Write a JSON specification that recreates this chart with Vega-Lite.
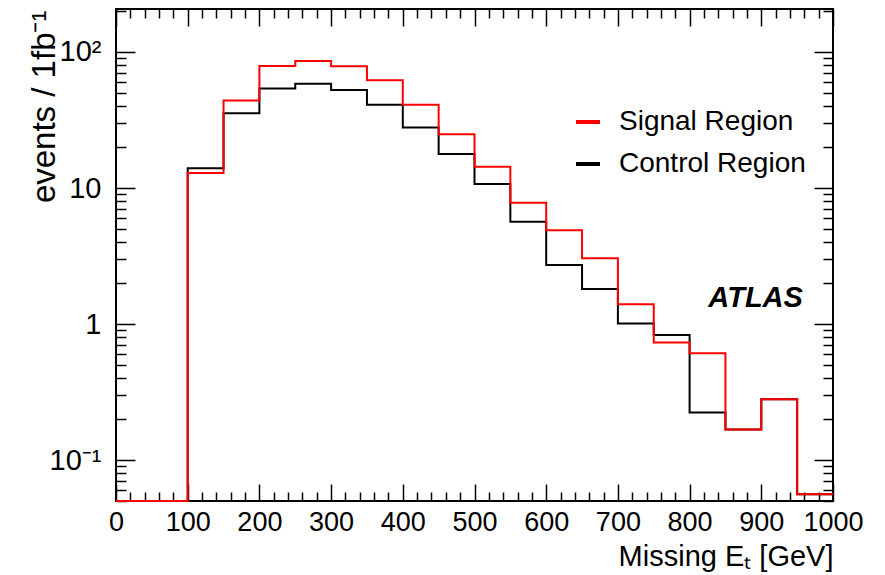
{
  "$schema": "https://vega.github.io/schema/vega-lite/v6.json",
  "width": 717,
  "height": 492,
  "autosize": {"type": "none"},
  "padding": {"left": 116, "top": 9, "right": 52, "bottom": 74},
  "background": "white",
  "config": {
    "view": {"stroke": "black", "strokeWidth": 2},
    "font": "Liberation Sans"
  },
  "datasets": {
    "hist": [
      {"region": "Control Region", "met": 0, "events": 0.05},
      {"region": "Control Region", "met": 50, "events": 0.05},
      {"region": "Control Region", "met": 100, "events": 14.0},
      {"region": "Control Region", "met": 150, "events": 35.4},
      {"region": "Control Region", "met": 200, "events": 54},
      {"region": "Control Region", "met": 250, "events": 58.5},
      {"region": "Control Region", "met": 300, "events": 52.5},
      {"region": "Control Region", "met": 350, "events": 41},
      {"region": "Control Region", "met": 400, "events": 27.9},
      {"region": "Control Region", "met": 450, "events": 17.8},
      {"region": "Control Region", "met": 500, "events": 10.7},
      {"region": "Control Region", "met": 550, "events": 5.65},
      {"region": "Control Region", "met": 600, "events": 2.72},
      {"region": "Control Region", "met": 650, "events": 1.81},
      {"region": "Control Region", "met": 700, "events": 1.01},
      {"region": "Control Region", "met": 750, "events": 0.83},
      {"region": "Control Region", "met": 800, "events": 0.224},
      {"region": "Control Region", "met": 850, "events": 0.168},
      {"region": "Control Region", "met": 900, "events": 0.28},
      {"region": "Control Region", "met": 950, "events": 0.056},
      {"region": "Control Region", "met": 1000, "events": 0.056},
      {"region": "Signal Region", "met": 0, "events": 0.05},
      {"region": "Signal Region", "met": 50, "events": 0.05},
      {"region": "Signal Region", "met": 100, "events": 12.9},
      {"region": "Signal Region", "met": 150, "events": 44},
      {"region": "Signal Region", "met": 200, "events": 79},
      {"region": "Signal Region", "met": 250, "events": 86},
      {"region": "Signal Region", "met": 300, "events": 78.5},
      {"region": "Signal Region", "met": 350, "events": 62},
      {"region": "Signal Region", "met": 400, "events": 41},
      {"region": "Signal Region", "met": 450, "events": 24.8},
      {"region": "Signal Region", "met": 500, "events": 14.3},
      {"region": "Signal Region", "met": 550, "events": 7.8},
      {"region": "Signal Region", "met": 600, "events": 4.9},
      {"region": "Signal Region", "met": 650, "events": 3.04},
      {"region": "Signal Region", "met": 700, "events": 1.4},
      {"region": "Signal Region", "met": 750, "events": 0.73},
      {"region": "Signal Region", "met": 800, "events": 0.61},
      {"region": "Signal Region", "met": 850, "events": 0.168},
      {"region": "Signal Region", "met": 900, "events": 0.28},
      {"region": "Signal Region", "met": 950, "events": 0.056},
      {"region": "Signal Region", "met": 1000, "events": 0.056}
    ],
    "label": [{"x": 958, "y": 1.33, "text": "ATLAS"}]
  },
  "layer": [
    {
      "data": {"name": "hist"},
      "mark": {"type": "line", "interpolate": "step-after", "strokeWidth": 2},
      "encoding": {
        "x": {
          "field": "met", "type": "quantitative",
          "scale": {"domain": [0, 1000], "nice": false, "zero": false},
          "axis": {
            "orient": "bottom",
            "values": [0,20,40,60,80,100,120,140,160,180,200,220,240,260,280,300,320,340,360,380,400,420,440,460,480,500,520,540,560,580,600,620,640,660,680,700,720,740,760,780,800,820,840,860,880,900,920,940,960,980,1000],
            "labelExpr": "datum.value % 100 === 0 ? datum.label : ''",
            "format": "d",
            "domain": false, "grid": false,
            "tickColor": "black", "tickWidth": 1.5,
            "tickSize": {"condition": {"test": "datum.value % 100 === 0", "value": -17}, "value": -9},
            "labelFont": "Liberation Sans", "labelFontSize": 27, "labelColor": "black",
            "labelPadding": 25, "labelOverlap": false, "labelFlush": false, "labelBound": false,
            "labelBaseline": "top",
            "title": "Missing Eₜ [GeV]",
            "titleFont": "Liberation Sans", "titleFontSize": 29, "titleFontWeight": "normal", "titleColor": "black",
            "titleAlign": "right", "titleAnchor": "end", "titleBaseline": "alphabetic",
            "titleX": 717, "titleY": 64
          }
        },
        "y": {
          "field": "events", "type": "quantitative",
          "scale": {"type": "log", "domain": [0.05, 207], "nice": false},
          "axis": {
            "orient": "left",
            "values": [0.05,0.06,0.07,0.08,0.09,0.1,0.2,0.3,0.4,0.5,0.6,0.7,0.8,0.9,1,2,3,4,5,6,7,8,9,10,20,30,40,50,60,70,80,90,100,200],
            "labelExpr": "datum.value == 0.1 ? '10⁻¹' : datum.value == 1 ? '1' : datum.value == 10 ? '10' : datum.value == 100 ? '10²' : ''",
            "domain": false, "grid": false,
            "tickColor": "black", "tickWidth": 1.5,
            "tickSize": {"condition": {"test": "indexof([0.1,1,10,100], datum.value) >= 0", "value": -19}, "value": -10},
            "labelFont": "Liberation Sans", "labelFontSize": 29, "labelColor": "black",
            "labelPadding": 34, "labelOverlap": false, "labelFlush": false, "labelBound": false,
            "title": "events / 1fb⁻¹",
            "titleFont": "Liberation Sans", "titleFontSize": 33, "titleFontWeight": "normal", "titleColor": "black",
            "titleAngle": -90, "titleAlign": "right", "titleAnchor": "end", "titleBaseline": "alphabetic",
            "titleX": -62, "titleY": 1
          }
        },
        "color": {
          "field": "region", "type": "nominal",
          "scale": {"domain": ["Signal Region", "Control Region"], "range": ["#ff0000", "#000000"]},
          "legend": {
            "orient": "none", "legendX": 458, "legendY": 99,
            "title": null, "padding": 0,
            "symbolType": "stroke", "symbolSize": 576, "symbolStrokeWidth": 4,
            "labelFont": "Liberation Sans", "labelFontSize": 28, "labelColor": "black", "labelLimit": 0,
            "labelOffset": 17, "rowPadding": 14
          }
        }
      }
    },
    {
      "data": {"name": "label"},
      "mark": {"type": "text", "font": "Liberation Sans", "fontSize": 29, "fontWeight": "bold", "fontStyle": "italic", "align": "right", "baseline": "alphabetic", "color": "black"},
      "encoding": {
        "x": {
          "field": "x", "type": "quantitative",
          "scale": {"domain": [0, 1000], "nice": false, "zero": false},
          "axis": {
            "orient": "top",
            "values": [0,20,40,60,80,100,120,140,160,180,200,220,240,260,280,300,320,340,360,380,400,420,440,460,480,500,520,540,560,580,600,620,640,660,680,700,720,740,760,780,800,820,840,860,880,900,920,940,960,980,1000],
            "labels": false, "domain": false, "grid": false, "title": null,
            "tickColor": "black", "tickWidth": 1.5,
            "tickSize": {"condition": {"test": "datum.value % 100 === 0", "value": -17}, "value": -9}
          }
        },
        "y": {
          "field": "y", "type": "quantitative",
          "scale": {"type": "log", "domain": [0.05, 207], "nice": false},
          "axis": {
            "orient": "right",
            "values": [0.05,0.06,0.07,0.08,0.09,0.1,0.2,0.3,0.4,0.5,0.6,0.7,0.8,0.9,1,2,3,4,5,6,7,8,9,10,20,30,40,50,60,70,80,90,100,200],
            "labels": false, "domain": false, "grid": false, "title": null,
            "tickColor": "black", "tickWidth": 1.5,
            "tickSize": {"condition": {"test": "indexof([0.1,1,10,100], datum.value) >= 0", "value": -19}, "value": -10}
          }
        },
        "text": {"field": "text"}
      }
    }
  ],
  "resolve": {"axis": {"x": "independent", "y": "independent"}}
}
